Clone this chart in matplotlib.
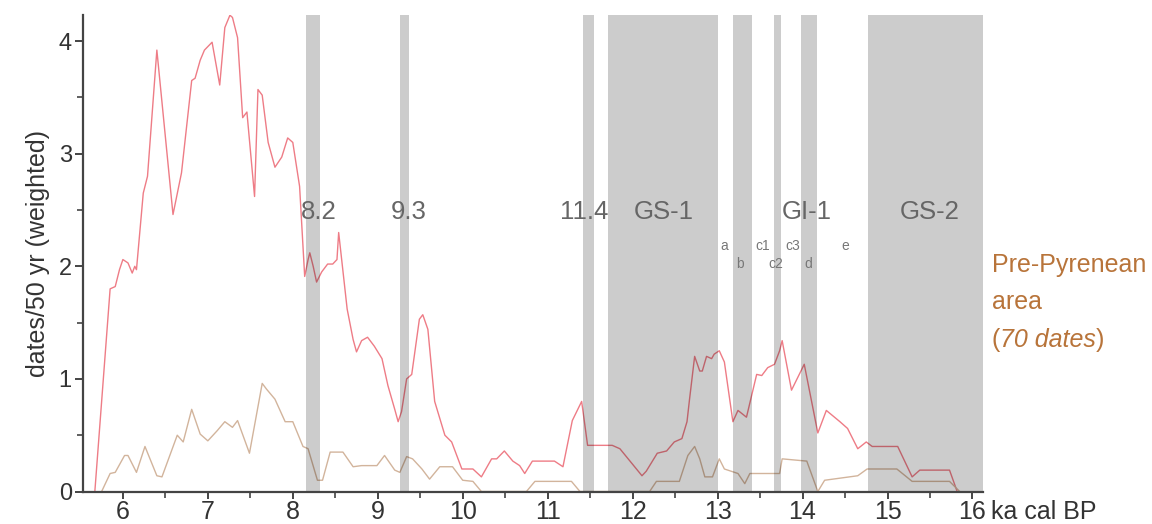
"""Summed date probability curve, Pre-Pyrenean area, with cold-event bands."""
import matplotlib
matplotlib.use("Agg")
import matplotlib.pyplot as plt
from matplotlib.ticker import MultipleLocator

plt.rcParams["font.family"] = ["Liberation Sans", "DejaVu Sans"]

# ka cal BP / dates per 50 yr
red_x = [5.67, 5.85, 5.91, 5.96, 6.00, 6.06, 6.11, 6.14, 6.16, 6.24, 6.29, 6.40,
         6.59, 6.69, 6.81, 6.85, 6.91, 6.96, 7.05, 7.14, 7.20, 7.26, 7.29, 7.35,
         7.41, 7.46, 7.55, 7.59, 7.64, 7.71, 7.79, 7.87, 7.94, 8.00, 8.08, 8.14,
         8.18, 8.20, 8.24, 8.28, 8.34, 8.41, 8.47, 8.52, 8.54, 8.64, 8.71, 8.75,
         8.81, 8.88, 8.96, 9.05, 9.12, 9.20, 9.24, 9.28, 9.34, 9.40, 9.49, 9.53,
         9.59, 9.67, 9.79, 9.87, 9.99, 10.12, 10.22, 10.34, 10.40, 10.49, 10.59,
         10.67, 10.73, 10.82, 11.08, 11.18, 11.29, 11.40, 11.47, 11.76, 11.85,
         12.11, 12.16, 12.29, 12.40, 12.49, 12.58, 12.64, 12.67, 12.73, 12.79,
         12.82, 12.87, 12.93, 12.96, 13.02, 13.08, 13.18, 13.24, 13.34, 13.46,
         13.52, 13.59, 13.67, 13.73, 13.76, 13.87, 14.02, 14.18, 14.28, 14.44,
         14.53, 14.65, 14.75, 14.82, 15.12, 15.29, 15.38, 15.73, 15.82]
red_y = [0.00, 1.80, 1.82, 1.97, 2.06, 2.03, 1.94, 2.00, 1.97, 2.65, 2.80, 3.92,
         2.46, 2.83, 3.65, 3.67, 3.83, 3.92, 3.99, 3.61, 4.12, 4.23, 4.21, 4.03,
         3.32, 3.37, 2.62, 3.57, 3.52, 3.10, 2.88, 2.97, 3.14, 3.10, 2.71, 1.91,
         2.06, 2.12, 2.00, 1.86, 1.95, 2.02, 2.02, 2.06, 2.30, 1.62, 1.35, 1.24,
         1.34, 1.37, 1.29, 1.18, 0.94, 0.73, 0.62, 0.71, 1.00, 1.04, 1.53, 1.57,
         1.44, 0.80, 0.50, 0.44, 0.20, 0.20, 0.13, 0.29, 0.29, 0.36, 0.27,
         0.23, 0.16, 0.27, 0.27, 0.22, 0.63, 0.80, 0.41, 0.41, 0.38,
         0.14, 0.18, 0.34, 0.36, 0.44, 0.47, 0.62, 0.82, 1.20, 1.07,
         1.07, 1.20, 1.18, 1.22, 1.25, 1.15, 0.62, 0.72, 0.66, 1.04,
         1.03, 1.10, 1.13, 1.25, 1.34, 0.90, 1.13, 0.52, 0.72, 0.62,
         0.56, 0.38, 0.44, 0.40, 0.40, 0.13, 0.19, 0.19, 0.00]

brown_x = [5.75, 5.85, 5.91, 6.02, 6.06, 6.16, 6.26, 6.40, 6.46, 6.64, 6.71, 6.81,
           6.91, 7.00, 7.11, 7.20, 7.29, 7.35, 7.49, 7.64, 7.69, 7.79, 7.91, 8.00,
           8.12, 8.18, 8.29, 8.35, 8.44, 8.59, 8.71, 8.81, 8.99, 9.08, 9.20, 9.26,
           9.34, 9.41, 9.52, 9.61, 9.73, 9.88, 10.00, 10.12, 10.22, 10.75, 10.85,
           11.28, 11.38, 12.20, 12.28, 12.55, 12.65, 12.73, 12.79, 12.85, 12.94,
           13.02, 13.08, 13.24, 13.32, 13.38, 13.73, 13.76, 14.05, 14.18, 14.26,
           14.65, 14.76, 15.11, 15.29, 15.73, 15.85]
brown_y = [0.00, 0.16, 0.17, 0.32, 0.32, 0.17, 0.40, 0.14, 0.13, 0.50, 0.44, 0.73,
           0.51, 0.45, 0.54, 0.62, 0.57, 0.63, 0.34, 0.96, 0.91, 0.82, 0.62, 0.62,
           0.40, 0.38, 0.10, 0.10, 0.35, 0.35, 0.22, 0.23, 0.23, 0.32, 0.19, 0.17,
           0.31, 0.29, 0.20, 0.11, 0.22, 0.22, 0.10, 0.09, 0.00, 0.00, 0.09,
           0.09, 0.00, 0.00, 0.09, 0.09, 0.32, 0.40, 0.29, 0.13, 0.13,
           0.29, 0.20, 0.16, 0.07, 0.16, 0.16, 0.29, 0.27, 0.00, 0.10,
           0.14, 0.20, 0.20, 0.09, 0.09, 0.00]

# shaded intervals (start, end) in ka cal BP
bands = [(8.16, 8.32), (9.26, 9.37), (11.42, 11.55), (11.71, 13.0),
         (13.18, 13.40), (13.66, 13.75), (13.98, 14.17), (14.77, 16.12)]

event_labels = ["8.2", "9.3", "11.4", "GS-1", "GI-1", "GS-2"]
event_x = [8.30, 9.36, 11.43, 12.37, 14.05, 15.50]
sub_labels = ["a", "b", "c1", "c2", "c3", "d", "e"]
sub_x = [13.08, 13.26, 13.53, 13.69, 13.88, 14.07, 14.50]
sub_y = [2.18, 2.02, 2.18, 2.02, 2.18, 2.02, 2.18]

fig = plt.figure(figsize=(11.52, 5.24), dpi=100)
ax = fig.add_axes([0.072, 0.062, 0.781, 0.909])

ax.plot(red_x, red_y, color="#ee7c86", lw=1.0, zorder=2)
ax.plot(brown_x, brown_y, color="#d2b49c", lw=1.0, zorder=2)

# black at low alpha darkens both the background and the curves inside the bands
for x0, x1 in bands:
    ax.axvspan(x0, x1, color="black", alpha=0.2, lw=0, zorder=3)

for lab, x in zip(event_labels, event_x):
    ax.text(x, 2.48, lab, ha="center", va="center", fontsize=18.5,
            color="#666666", zorder=4)
for lab, x, y in zip(sub_labels, sub_x, sub_y):
    ax.text(x, y, lab, ha="center", va="center", fontsize=10,
            color="#777777", zorder=4)

ax.set_xlim(5.53, 16.12)
ax.set_ylim(0, 4.23)
ax.xaxis.set_major_locator(MultipleLocator(1))
ax.xaxis.set_minor_locator(MultipleLocator(0.5))
ax.yaxis.set_major_locator(MultipleLocator(1))
ax.yaxis.set_minor_locator(MultipleLocator(0.5))
ax.set_xticks(range(6, 17))
ax.set_yticks(range(0, 5))

for side in ("top", "right"):
    ax.spines[side].set_visible(False)
for side in ("left", "bottom"):
    ax.spines[side].set_color("#444444")
    ax.spines[side].set_linewidth(1.6)
    ax.spines[side].set_zorder(5)

ax.tick_params(axis="x", which="major", direction="out", length=5, width=1.4,
               color="#444444", labelsize=18, labelcolor="#333333", pad=1)
ax.tick_params(axis="y", which="major", direction="out", length=6, width=1.4,
               color="#444444", labelsize=17, labelcolor="#333333", pad=2)
ax.tick_params(which="minor", direction="out", length=4, width=1.2, color="#444444")

ax.annotate("ka cal BP", xy=(16.22, 0), xycoords=("data", "axes fraction"),
            xytext=(0, -6), textcoords="offset points", ha="left", va="top",
            fontsize=18, color="#333333", annotation_clip=False)

ax.set_ylabel("dates/50 yr (weighted)", fontsize=18, color="#333333", labelpad=6)

tc = "#b8743a"
fig.text(0.861, 1 - 265 / 524, "Pre-Pyrenean", fontsize=18, color=tc, va="center")
fig.text(0.861, 1 - 302 / 524, "area", fontsize=18, color=tc, va="center")
t1 = fig.text(0.861, 1 - 340 / 524, "(", fontsize=18, color=tc, va="center")
t2 = ax.annotate("70 dates", xy=(1, 0), xycoords=t1, ha="left", va="bottom",
                 fontsize=18, color=tc, style="italic", annotation_clip=False)
ax.annotate(")", xy=(1, 0), xycoords=t2, ha="left", va="bottom",
            fontsize=18, color=tc, annotation_clip=False)

fig.savefig("out.png", dpi=100)
plt.close(fig)
